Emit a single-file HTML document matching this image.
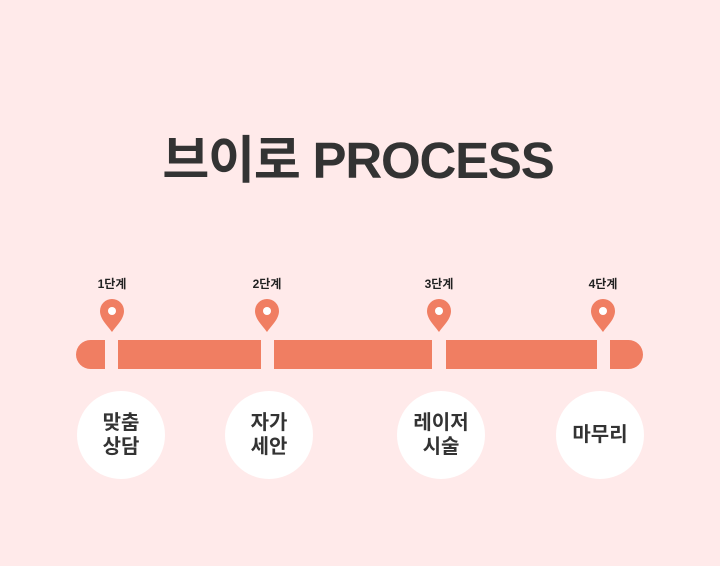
<!DOCTYPE html>
<html><head><meta charset="utf-8"><style>
body{margin:0;width:720px;height:566px;background:#ffeaea;position:relative;overflow:hidden;font-family:"Liberation Sans","Noto Sans CJK KR",sans-serif;}
.t{position:absolute;left:0;width:716px;top:119px;text-align:center;font-size:51px;font-weight:bold;color:#333;letter-spacing:-1.2px}
.bar{position:absolute;top:340px;height:29px;background:#f07e62}
.lab{position:absolute;top:275px;width:60px;text-align:center;font-size:12px;font-weight:bold;color:#222}
.c{position:absolute;top:391px;width:88px;height:88px;border-radius:50%;background:#fff;display:flex;align-items:center;justify-content:center;text-align:center;font-size:20px;font-weight:bold;color:#333;line-height:24px}
svg{position:absolute;top:298px}
</style></head><body>
<div class="t">브이로 PROCESS</div>
<div class="bar" style="left:76px;width:29px;border-radius:15px 0 0 15px"></div>
<div class="bar" style="left:118px;width:143px"></div>
<div class="bar" style="left:274px;width:158px"></div>
<div class="bar" style="left:446px;width:151px"></div>
<div class="bar" style="left:610px;width:33px;border-radius:0 15px 15px 0"></div>
<div class="lab" style="left:82px">1단계</div>
<div class="lab" style="left:237px">2단계</div>
<div class="lab" style="left:409px">3단계</div>
<div class="lab" style="left:573px">4단계</div>
<svg style="left:99px" width="26" height="34" viewBox="0 0 26 34"><path d="M13 34C8 27 1 21 1 13A12 12 0 0 1 25 13C25 21 18 27 13 34Z" fill="#f07e62"/><circle cx="13" cy="13" r="4" fill="#fff"/></svg>
<svg style="left:254px" width="26" height="34" viewBox="0 0 26 34"><path d="M13 34C8 27 1 21 1 13A12 12 0 0 1 25 13C25 21 18 27 13 34Z" fill="#f07e62"/><circle cx="13" cy="13" r="4" fill="#fff"/></svg>
<svg style="left:426px" width="26" height="34" viewBox="0 0 26 34"><path d="M13 34C8 27 1 21 1 13A12 12 0 0 1 25 13C25 21 18 27 13 34Z" fill="#f07e62"/><circle cx="13" cy="13" r="4" fill="#fff"/></svg>
<svg style="left:590px" width="26" height="34" viewBox="0 0 26 34"><path d="M13 34C8 27 1 21 1 13A12 12 0 0 1 25 13C25 21 18 27 13 34Z" fill="#f07e62"/><circle cx="13" cy="13" r="4" fill="#fff"/></svg>
<div class="c" style="left:77px">맞춤<br>상담</div>
<div class="c" style="left:225px">자가<br>세안</div>
<div class="c" style="left:397px">레이저<br>시술</div>
<div class="c" style="left:556px">마무리</div>
</body></html>
